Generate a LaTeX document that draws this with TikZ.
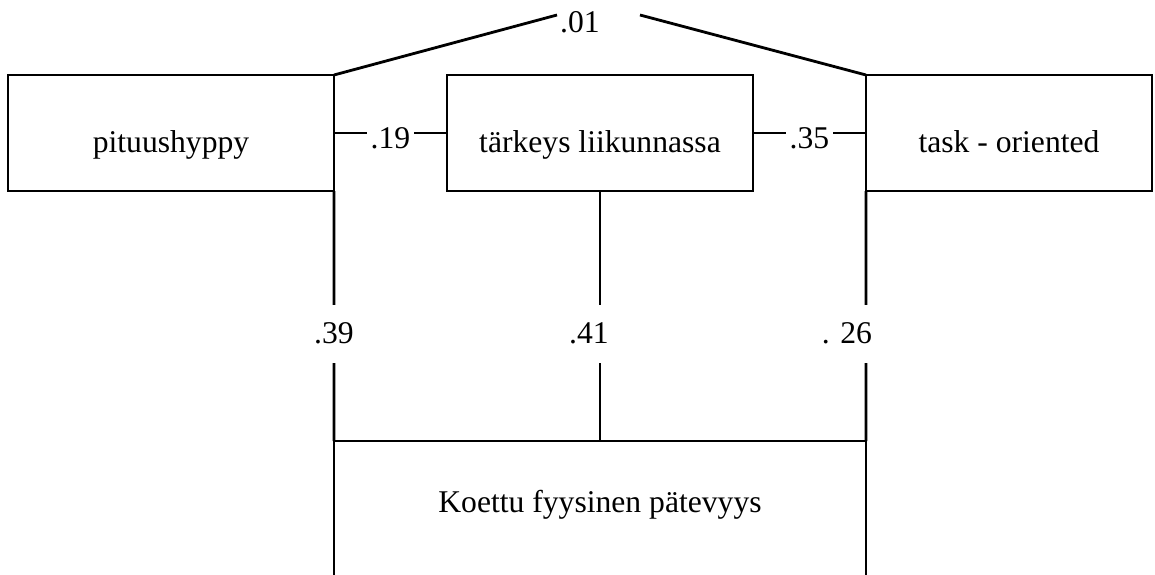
\documentclass[tikz,border=0pt]{standalone}
\usepackage{fontspec}
\setmainfont{Liberation Serif}
\usepackage{tikz}

\begin{document}
\begin{tikzpicture}[line width=.8pt,font=\fontsize{9}{11}\selectfont,
  box/.style={draw,rectangle,outer sep=0pt,minimum height=1.16cm,text height=12pt,text depth=1pt},
  lbl/.style={fill=white,inner sep=1pt}]
\useasboundingbox (0,0) rectangle (11.55,5.74);

\node[box,minimum width=3.26cm](v1) at (1.71,4.41) {pituushyppy};
\node[box,minimum width=3.06cm](v2) at (6.00,4.41) {tärkeys liikunnassa};
\node[box,minimum width=2.86cm](v3) at (10.09,4.41) {task - oriented};
\node[outer sep=0pt,minimum width=5.32cm,minimum height=1.28cm,anchor=north](v4) at (6.00,1.33) {Koettu fyysinen pätevyys};
% open box at the bottom
\draw ([yshift=-3mm]v4.south west) -- (v4.north west) -- (v4.north east) -- ([yshift=-3mm]v4.south east);

% correlation on top
\node(c01) at (5.80,5.52) {.01};
\coordinate (l01) at (5.57,5.59);
\coordinate (r01) at (6.40,5.59);
\draw (v1.north east) -- (l01);
\draw (r01) -- (v3.north west);

\draw (v1) edge node[lbl,yshift=-.5mm]{.19} (v2);
\draw (v2) edge node[lbl,yshift=-.5mm]{.35} (v3);

\draw (v1.south east) edge node[lbl,pos=.57,minimum height=.58cm]{.39} (v4.north west);
\draw (v2.south) edge node[lbl,pos=.57,minimum height=.58cm,xshift=-1.1mm]{.41} (v4.north);
\draw (v3.south west) edge node[lbl,pos=.57,minimum height=.58cm,xshift=-1.9mm]{. 26} (v4.north east);
\end{tikzpicture}
\end{document}
